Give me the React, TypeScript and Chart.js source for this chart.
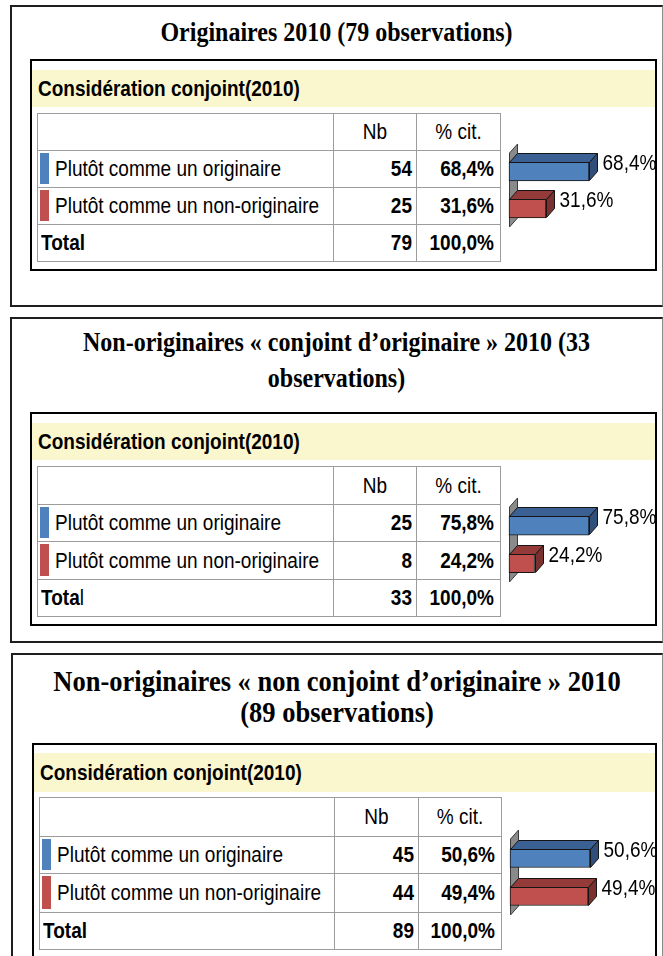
import React, { useEffect, useRef } from "react";
import { Chart, registerables } from "chart.js";

Chart.register(...registerables);

// ---------- DATA ----------
const categories = ["Plutôt comme un originaire", "Plutôt comme un non-originaire"];
const panelTitles = [
  ["Originaires 2010 (79 observations)"],
  ["Non-originaires «\u00a0conjoint d’originaire\u00a0» 2010 (33", "observations)"],
  ["Non-originaires «\u00a0non conjoint d’originaire\u00a0» 2010", "(89 observations)"],
];
const tableHeading = "Considération conjoint(2010)";
const columnHeaders = ["Nb", "% cit."];
const totalLabel = "Total";

const originairesNb = [54, 25];
const originairesPct = [68.4, 31.6];
const conjointNb = [25, 8];
const conjointPct = [75.8, 24.2];
const nonConjointNb = [45, 44];
const nonConjointPct = [50.6, 49.4];
const totalNb = [79, 33, 89];
const totalPct = [100.0, 100.0, 100.0];

const seriesColors = ["#4F81BD", "#C0504D"];
const topColors = ["#3B6194", "#943B39"];
const sideColors = ["#2F4F7A", "#7A302E"];

// ---------- STYLE / LAYOUT ----------
const SANS = '"Liberation Sans", Arial, Helvetica, sans-serif';
const SERIF = '"Liberation Serif", "Times New Roman", Times, serif';
const DX = 8;
const DY = 9;
const STRETCH = 1.17;

const fmtPct = (v: number) => v.toFixed(1).replace(".", ",") + "%";

const Tall = ({ children, k = STRETCH }: { children: React.ReactNode; k?: number }) => (
  <span style={{ display: "inline-block", transform: `scaleY(${k})`, transformOrigin: "50% 55%" }}>
    {children}
  </span>
);

const bar3dPlugin = {
  id: "bar3d",
  beforeDatasetsDraw(chart: any) {
    const { ctx, chartArea } = chart;
    const x0 = Math.round(chart.scales.x.getPixelForValue(0)) + 0.5;
    ctx.save();
    ctx.beginPath();
    ctx.moveTo(x0, chartArea.bottom);
    ctx.lineTo(x0, chartArea.top);
    ctx.lineTo(x0 + DX, chartArea.top - DY);
    ctx.lineTo(x0 + DX, chartArea.bottom - DY);
    ctx.closePath();
    ctx.fillStyle = "#8A8A8A";
    ctx.fill();
    ctx.strokeStyle = "#3A3A3A";
    ctx.lineWidth = 1;
    ctx.stroke();
    ctx.restore();
  },
  afterDatasetsDraw(chart: any) {
    const { ctx } = chart;
    const meta = chart.getDatasetMeta(0);
    const values = chart.data.datasets[0].data as number[];
    meta.data.forEach((el: any, i: number) => {
      const { x, y, height } = el.getProps(["x", "y", "base", "height"], true);
      const base = Math.round(chart.scales.x.getPixelForValue(0));
      const xe = Math.round(x) + 0.5;
      const t = Math.round(y - height / 2) + 0.5;
      const b = Math.round(y + height / 2) - 0.5;
      ctx.save();
      ctx.lineWidth = 1;
      ctx.strokeStyle = "#151515";
      // top face
      ctx.beginPath();
      ctx.moveTo(base + 0.5, t);
      ctx.lineTo(xe, t);
      ctx.lineTo(xe + DX, t - DY);
      ctx.lineTo(base + 0.5 + DX, t - DY);
      ctx.closePath();
      ctx.fillStyle = topColors[i];
      ctx.fill();
      ctx.stroke();
      // right face
      ctx.beginPath();
      ctx.moveTo(xe, t);
      ctx.lineTo(xe + DX, t - DY);
      ctx.lineTo(xe + DX, b - DY);
      ctx.lineTo(xe, b);
      ctx.closePath();
      ctx.fillStyle = sideColors[i];
      ctx.fill();
      ctx.stroke();
      // label (slightly tall glyphs, as in the source)
      ctx.translate(xe + DX + 5, t + 1);
      ctx.scale(1, STRETCH);
      ctx.font = "19px " + SANS;
      ctx.fillStyle = "#000";
      ctx.textAlign = "left";
      ctx.textBaseline = "middle";
      ctx.fillText(fmtPct(values[i]), 0, 0);
      ctx.restore();
    });
  },
};

type BarProps = { pct: number[]; left: number; top: number; width: number; height: number };

function Bars3D({ pct, left, top, width, height }: BarProps) {
  const ref = useRef<HTMLCanvasElement>(null);
  useEffect(() => {
    const chart = new Chart(ref.current as HTMLCanvasElement, {
      type: "bar",
      data: {
        labels: categories,
        datasets: [
          {
            data: pct,
            backgroundColor: seriesColors,
            borderColor: "#151515",
            borderWidth: 1,
            borderSkipped: false,
            barThickness: 19,
            clip: false as any,
          } as any,
        ],
      },
      options: {
        indexAxis: "y",
        animation: false,
        responsive: false,
        maintainAspectRatio: false,
        events: [],
        layout: { padding: { left: 9, right: width - 89, top: 17, bottom: 11 } },
        scales: {
          x: { display: false, min: 0, max: Math.max(...pct) },
          y: { display: false },
        },
        plugins: { legend: { display: false }, tooltip: { enabled: false } },
      },
      plugins: [bar3dPlugin],
    });
    return () => chart.destroy();
  }, []);
  return (
    <canvas
      ref={ref}
      width={width}
      height={height}
      style={{ position: "absolute", left, top, width, height }}
    />
  );
}

type PanelLayout = {
  outer: { l: number; t: number; w: number; h: number };
  titleTop: number;
  titleSize: number;
  titleLH: number;
  inner: { l: number; t: number; w: number; h: number };
  band: [number, number];
  cols: number[];
  rows: number[];
  thinL?: boolean;
};

const layouts: PanelLayout[] = [
  {
    outer: { l: 10, t: 5, w: 653, h: 302 },
    titleTop: 16,
    titleSize: 24,
    titleLH: 32,
    inner: { l: 30, t: 59, w: 627, h: 212 },
    band: [70, 107],
    cols: [37, 333, 416, 500],
    rows: [113, 150, 187, 224, 261],
  },
  {
    outer: { l: 10, t: 317, w: 653, h: 326 },
    titleTop: 324,
    titleSize: 24,
    titleLH: 36,
    inner: { l: 30, t: 412, w: 627, h: 214 },
    band: [423, 460],
    cols: [37, 333, 416, 500],
    rows: [466, 504, 541, 579, 616],
    thinL: true,
  },
  {
    outer: { l: 11, t: 653, w: 652, h: 320 },
    titleTop: 666,
    titleSize: 26.5,
    titleLH: 31,
    inner: { l: 32, t: 743, w: 625, h: 240 },
    band: [753, 792],
    cols: [39, 334, 418, 501],
    rows: [797, 836, 873, 912, 949],
  },
];

const cellBase: React.CSSProperties = {
  position: "absolute",
  boxSizing: "border-box",
  border: "1px solid #9C9C9C",
  display: "flex",
  alignItems: "center",
  fontFamily: SANS,
  fontSize: 19,
  color: "#000",
  whiteSpace: "nowrap",
  overflow: "hidden",
  background: "#FFFFFF",
};

function Panel({
  idx,
  nb,
  pct,
}: {
  idx: number;
  nb: number[];
  pct: number[];
}) {
  const L = layouts[idx];
  const { cols, rows } = L;
  const cell = (r: number, c: number, extra: React.CSSProperties, content: React.ReactNode) => (
    <div
      key={r + "-" + c}
      style={{
        ...cellBase,
        left: cols[c],
        top: rows[r],
        width: cols[c + 1] - cols[c] + 1,
        height: rows[r + 1] - rows[r] + 1,
        ...extra,
      }}
    >
      {content}
    </div>
  );
  const cells: React.ReactNode[] = [];
  // header row
  cells.push(cell(0, 0, {}, null));
  cells.push(cell(0, 1, { justifyContent: "center" }, <Tall>{columnHeaders[0]}</Tall>));
  cells.push(cell(0, 2, { justifyContent: "center" }, <Tall>{columnHeaders[1]}</Tall>));
  // data rows
  categories.forEach((cat, i) => {
    const r = i + 1;
    cells.push(
      cell(
        r,
        0,
        { paddingLeft: 17 },
        <>
          <div
            style={{
              position: "absolute",
              left: 2,
              top: 2,
              width: 9,
              bottom: 3,
              background: seriesColors[i],
            }}
          />
          <Tall>{cat}</Tall>
        </>
      )
    );
    cells.push(
      cell(r, 1, { justifyContent: "flex-end", paddingRight: 4, fontWeight: 700 }, <Tall>{String(nb[i])}</Tall>)
    );
    cells.push(
      cell(r, 2, { justifyContent: "flex-end", paddingRight: 6, fontWeight: 700 }, <Tall>{fmtPct(pct[i])}</Tall>)
    );
  });
  // total row
  cells.push(
    cell(
      3,
      0,
      { paddingLeft: 3, fontWeight: 700 },
      <Tall>
        {L.thinL ? (
          <>
            {totalLabel.slice(0, -1)}
            <span style={{ fontWeight: 400 }}>{totalLabel.slice(-1)}</span>
          </>
        ) : (
          totalLabel
        )}
      </Tall>
    )
  );
  cells.push(
    cell(3, 1, { justifyContent: "flex-end", paddingRight: 4, fontWeight: 700 }, <Tall>{String(totalNb[idx])}</Tall>)
  );
  cells.push(
    cell(3, 2, { justifyContent: "flex-end", paddingRight: 6, fontWeight: 700 }, <Tall>{fmtPct(totalPct[idx])}</Tall>)
  );

  const chartLeft = cols[3];
  const chartTop = rows[1] - 14;
  const chartW = L.inner.l + L.inner.w - 2 - chartLeft;
  const chartH = rows[3] - rows[1] + 28;

  return (
    <>
      {/* outer frame */}
      <div
        style={{
          position: "absolute",
          left: L.outer.l,
          top: L.outer.t,
          width: L.outer.w,
          height: L.outer.h,
          boxSizing: "border-box",
          borderTop: "2px solid #1E1E1E",
          borderLeft: "2px solid #1E1E1E",
          borderBottom: "2px solid #1E1E1E",
          borderRight: "1px solid #8A8A8A",
          background: "#FFFFFF",
        }}
      />
      {/* title */}
      <div
        style={{
          position: "absolute",
          left: L.outer.l,
          width: L.outer.w,
          top: L.titleTop,
          textAlign: "center",
          fontFamily: SERIF,
          fontWeight: 700,
          fontSize: L.titleSize,
          lineHeight: L.titleLH + "px",
          color: "#000",
          whiteSpace: "nowrap",
        }}
      >
        {panelTitles[idx].map((t, i) => (
          <div key={i}>
            <Tall k={1.1}>{t}</Tall>
          </div>
        ))}
      </div>
      {/* yellow band */}
      <div
        style={{
          position: "absolute",
          left: L.inner.l + 2,
          width: L.inner.w - 4,
          top: L.band[0],
          height: L.band[1] - L.band[0],
          background: "#FAF7CE",
          display: "flex",
          alignItems: "center",
          fontFamily: SANS,
          fontWeight: 700,
          fontSize: 19,
          color: "#000",
          whiteSpace: "nowrap",
        }}
      >
        <span style={{ marginLeft: cols[0] + 1 - (L.inner.l + 2) }}>
          <Tall>{tableHeading}</Tall>
        </span>
      </div>
      {cells}
      <Bars3D pct={pct} left={chartLeft} top={chartTop} width={chartW} height={chartH} />
      {/* inner frame on top */}
      <div
        style={{
          position: "absolute",
          left: L.inner.l,
          top: L.inner.t,
          width: L.inner.w,
          height: L.inner.h,
          boxSizing: "border-box",
          border: "2px solid #000",
          pointerEvents: "none",
        }}
      />
    </>
  );
}

export default function App() {
  return (
    <div
      style={{
        position: "absolute",
        left: 0,
        top: 0,
        width: 663,
        height: 956,
        overflow: "hidden",
        background: "#FFFFFF",
      }}
    >
      <Panel idx={0} nb={originairesNb} pct={originairesPct} />
      <Panel idx={1} nb={conjointNb} pct={conjointPct} />
      <Panel idx={2} nb={nonConjointNb} pct={nonConjointPct} />
    </div>
  );
}
